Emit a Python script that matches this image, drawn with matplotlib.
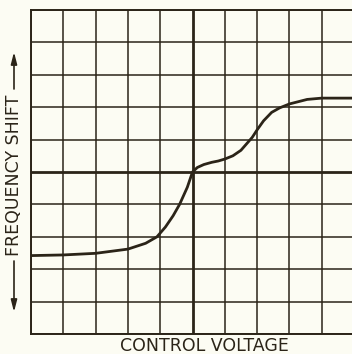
import matplotlib
matplotlib.use("Agg")
import matplotlib.pyplot as plt

# curve, grid units (10 x 10 divisions, origin at centre)
volts = [-5, -4, -3, -2, -1.45, -1.1, -0.84, -0.6, -0.4, -0.16, 0, 0.15, 0.35, 0.6, 0.8,
         1.0, 1.25, 1.5, 1.85, 2.0, 2.2, 2.45, 2.7, 3.0, 3.55, 4.0, 5.0]
shift = [-2.58, -2.56, -2.51, -2.38, -2.2, -2.0, -1.7, -1.35, -1.0, -0.47, 0, 0.14, 0.23, 0.3, 0.34,
         0.4, 0.5, 0.67, 1.07, 1.3, 1.58, 1.84, 1.98, 2.1, 2.24, 2.28, 2.28]
grid_ticks = [-5, -4, -3, -2, -1, 0, 1, 2, 3, 4, 5]

ink = "#2b2418"
paper = "#fcfcf3"

fig = plt.figure(figsize=(3.52, 3.54), dpi=100, facecolor=paper)
ax = fig.add_axes([31 / 352, 20 / 354, 323 / 352, 324 / 354])
ax.set_facecolor(paper)
ax.set_xlim(-5, 5)
ax.set_ylim(-5, 5)

for t in grid_ticks:
    lw = 2.0 if t == 0 else 1.1
    ax.axvline(t, color=ink, lw=lw, zorder=1)
    ax.axhline(t, color=ink, lw=lw, zorder=1)

ax.plot(volts, shift, color=ink, lw=2.0, zorder=3, solid_capstyle="round",
        solid_joinstyle="round")

for s in ax.spines.values():
    s.set_color(ink)
    s.set_linewidth(1.4)
ax.set_xticks([])
ax.set_yticks([])

fig.text(204 / 352, 1 - 346 / 354, "CONTROL VOLTAGE", ha="center", va="center",
         fontsize=12.5, color=ink)
fig.text(14 / 352, 1 - 175 / 354, "FREQUENCY SHIFT", ha="center", va="center",
         rotation=90, fontsize=12.5, color=ink)

arrow = dict(arrowstyle="-|>,head_length=0.7,head_width=0.18", color=ink, lw=1.2,
             shrinkA=0, shrinkB=0)
ax.annotate("", xy=(14, 354 - 52), xytext=(14, 354 - 89), xycoords="figure pixels",
            textcoords="figure pixels", arrowprops=arrow)
ax.annotate("", xy=(14, 354 - 312), xytext=(14, 354 - 261), xycoords="figure pixels",
            textcoords="figure pixels", arrowprops=arrow)

fig.savefig("out.png", dpi=100, facecolor=paper)
